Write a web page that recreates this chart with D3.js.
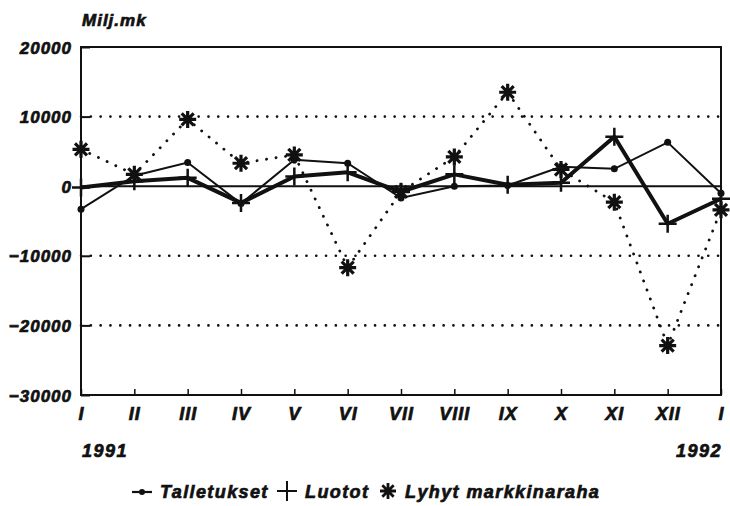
<!DOCTYPE html>
<html>
<head>
<meta charset="utf-8">
<script src="https://cdn.jsdelivr.net/npm/d3@7"></script>
<style>
    body { margin: 0; background: #fff; }
    svg text { font-family: "Liberation Sans", Arial, sans-serif; font-weight: bold; font-style: italic; fill: #111; stroke: #111; stroke-width: 0.7px; }
</style>
</head>
<body>
<svg width="730" height="506"></svg>
<script>
const months = ["I", "II", "III", "IV", "V", "VI", "VII", "VIII", "IX", "X", "XI", "XII", "I"];
const yTicks = [20000, 10000, 0, -10000, -20000, -30000];
const talletukset = [-3300, 1500, 3400, -2500, 3800, 3300, -1700, 0, 100, 2800, 2500, 6300, -1000];
const luotot = [-200, 700, 1200, -2400, 1400, 2000, -800, 1700, 200, 500, 7100, -5400, -1800];
const lyhyt = [5300, 1700, 9600, 3300, 4500, -11700, -800, 4200, 13500, 2400, -2300, -22900, -3400];

let svg = d3.select("svg");
const plotLeft = 81, plotRight = 721, plotTop = 47, plotBottom = 395;

let x = d3.scaleLinear().domain([0, months.length - 1]).range([plotLeft, plotRight]);
let y = d3.scaleLinear().domain([-30000, 20000]).range([plotBottom, plotTop]);

//dotted grid lines
svg.append("g")
    .selectAll("line")
    .data([10000, -10000, -20000])
    .enter().append("line")
    .attr("x1", plotLeft).attr("x2", plotRight)
    .attr("y1", d => y(d)).attr("y2", d => y(d))
    .attr("stroke", "#111")
    .attr("stroke-width", 2.6)
    .attr("stroke-linecap", "round")
    .attr("stroke-dasharray", "0.1 9.7");

//zero line
svg.append("line")
    .attr("x1", plotLeft).attr("x2", plotRight)
    .attr("y1", y(0)).attr("y2", y(0))
    .attr("stroke", "#111").attr("stroke-width", 2);

//frame
svg.append("rect")
    .attr("x", plotLeft).attr("y", plotTop)
    .attr("width", plotRight - plotLeft).attr("height", plotBottom - plotTop)
    .attr("fill", "none").attr("stroke", "#111").attr("stroke-width", 2);

//y axis, ticks pointing inward
let yAxis = d3.axisLeft(y).tickValues(yTicks).tickSize(-9).tickPadding(9).tickFormat(d3.format("d"));
let ya = svg.append("g").attr("transform", "translate(" + plotLeft + ",0)").call(yAxis);
ya.select(".domain").remove();
ya.selectAll("line").attr("stroke", "#111").attr("stroke-width", 2);
ya.selectAll("text").style("font-size", "17px").style("letter-spacing", "1px").attr("dy", "0.36em");

//x axis, ticks pointing inward
let xAxis = d3.axisBottom(x).tickValues(d3.range(months.length)).tickSize(-6).tickPadding(11)
    .tickFormat(i => months[i]);
let xa = svg.append("g").attr("transform", "translate(0," + plotBottom + ")").call(xAxis);
xa.select(".domain").remove();
xa.selectAll("line").attr("stroke", "#111").attr("stroke-width", 1.5);
xa.selectAll("text").style("font-size", "18px").style("letter-spacing", "1px").attr("dy", "0.8em");

//titles
svg.append("text").attr("x", 82).attr("y", 26).style("font-size", "17px").style("letter-spacing", "1px").text("Milj.mk");
svg.append("text").attr("x", 82).attr("y", 457).style("font-size", "18px").style("letter-spacing", "1.5px").text("1991");
svg.append("text").attr("x", 722).attr("y", 457).attr("text-anchor", "end").style("font-size", "18px").style("letter-spacing", "1.5px").text("1992");

let line = d3.line().x((d, i) => x(i)).y(d => y(d));

//lyhyt markkinaraha, dotted
svg.append("path").datum(lyhyt).attr("d", line)
    .attr("fill", "none").attr("stroke", "#111")
    .attr("stroke-width", 2.8).attr("stroke-linecap", "round")
    .attr("stroke-dasharray", "0.1 9.5");

//talletukset, thin
svg.append("path").datum(talletukset).attr("d", line)
    .attr("fill", "none").attr("stroke", "#111").attr("stroke-width", 2);

//luotot, thick
svg.append("path").datum(luotot).attr("d", line)
    .attr("fill", "none").attr("stroke", "#111").attr("stroke-width", 4).attr("stroke-linejoin", "round");

//markers
function starPath(cx, cy, r) {
    let p = "";
    for (let k = 0; k < 4; k++) {
        let a = k * Math.PI / 4;
        let dx = r * Math.cos(a), dy = r * Math.sin(a);
        p += "M" + (cx - dx) + "," + (cy - dy) + "L" + (cx + dx) + "," + (cy + dy);
    }
    return p;
}
function plusPath(cx, cy, r) {
    return "M" + (cx - r) + "," + cy + "L" + (cx + r) + "," + cy + "M" + cx + "," + (cy - r) + "L" + cx + "," + (cy + r);
}

svg.append("g").selectAll("path")
    .data(lyhyt)
    .enter().append("path")
    .attr("d", (d, i) => starPath(x(i), y(d), 8.5))
    .attr("stroke", "#111").attr("stroke-width", 3.2);

svg.append("g").selectAll("path")
    .data(luotot)
    .enter().append("path")
    .attr("d", (d, i) => plusPath(x(i), y(d), 9))
    .attr("stroke", "#111").attr("stroke-width", 2.5);

svg.append("g").selectAll("circle")
    .data(talletukset)
    .enter().append("circle")
    .attr("cx", (d, i) => x(i)).attr("cy", d => y(d))
    .attr("r", 3.5).attr("fill", "#111");

//legend
let lg = svg.append("g").attr("transform", "translate(0,498)");
lg.append("line").attr("x1", 132).attr("x2", 152).attr("y1", -6).attr("y2", -6).attr("stroke", "#111").attr("stroke-width", 2.2);
lg.append("circle").attr("cx", 142).attr("cy", -6).attr("r", 3).attr("fill", "#111");
lg.append("text").attr("x", 160).attr("y", 0).style("font-size", "18px").style("letter-spacing", "1.4px").text("Talletukset");
lg.append("path").attr("d", plusPath(287, -7, 10)).attr("stroke", "#111").attr("stroke-width", 2);
lg.append("text").attr("x", 305).attr("y", 0).style("font-size", "18px").style("letter-spacing", "1.4px").text("Luotot");
lg.append("path").attr("d", starPath(388, -7, 8)).attr("stroke", "#111").attr("stroke-width", 2.8);
lg.append("text").attr("x", 405).attr("y", 0).style("font-size", "18px").style("letter-spacing", "1.4px").text("Lyhyt markkinaraha");
</script>
</body>
</html>
